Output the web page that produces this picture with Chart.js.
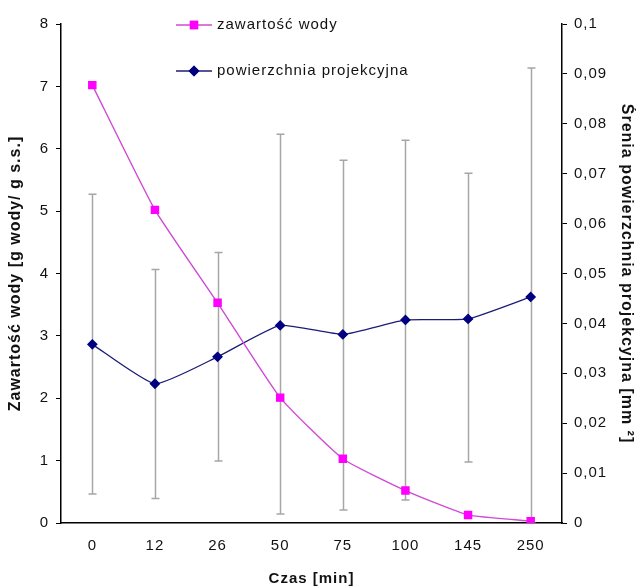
<!DOCTYPE html>
<html>
<head>
<meta charset="utf-8">
<style>
  html, body { margin: 0; padding: 0; background: #fff; }
  #wrap { width: 636px; height: 588px; position: relative; }
</style>
</head>
<body>
<div id="wrap">
  <canvas id="myChart"></canvas>
</div>

<script type="text/javascript" src="https://cdn.jsdelivr.net/npm/chart.js/dist/chart.umd.min.js"></script>

<script>
  // dane
  const czas = ['0', '12', '26', '50', '75', '100', '145', '250'];
  const zawartoscWody = [7.02, 5.02, 3.53, 2.01, 1.03, 0.52, 0.13, 0.03];
  const powierzchnia = [0.0358, 0.0279, 0.0333, 0.0396, 0.0378, 0.0407, 0.0409, 0.0453];
  const bladGorny = [0.0659, 0.0508, 0.0542, 0.0779, 0.0727, 0.0767, 0.0701, 0.0912];
  const bladDolny = [0.0058, 0.0049, 0.0124, 0.0018, 0.0026, 0.0046, 0.0122, 0];

  const FONT = "'Liberation Sans', Arial, sans-serif";

  // lekko rozstrzelony tekst jak w oryginale
  const spacing = {
    id: 'spacing',
    beforeDraw(chart) {
      chart.ctx.letterSpacing = '1px';
    }
  };

  // slupki bledow rysowane pod liniami
  const errorBars = {
    id: 'errorBars',
    beforeDatasetsDraw(chart) {
      const { ctx, chartArea } = chart;
      const x = chart.scales.x;
      const y1 = chart.scales.y1;
      ctx.save();
      ctx.beginPath();
      ctx.rect(chartArea.left, chartArea.top, chartArea.width, chartArea.height);
      ctx.clip();
      ctx.strokeStyle = '#a6a6a6';
      ctx.lineWidth = 1.5;
      for (let i = 0; i < czas.length; i++) {
        const px = Math.round(x.getPixelForValue(i)) + 0.5;
        const top = y1.getPixelForValue(bladGorny[i]);
        const bot = y1.getPixelForValue(bladDolny[i]);
        ctx.beginPath();
        ctx.moveTo(px, top);
        ctx.lineTo(px, bot);
        ctx.moveTo(px - 4, top);
        ctx.lineTo(px + 4, top);
        ctx.moveTo(px - 4, bot);
        ctx.lineTo(px + 4, bot);
        ctx.stroke();
      }
      ctx.restore();
    }
  };

  // legenda wewnatrz obszaru wykresu
  const innerLegend = {
    id: 'innerLegend',
    afterDraw(chart) {
      const { ctx, chartArea } = chart;
      const x0 = chartArea.left + 115;
      const rows = [chartArea.top + 1, chartArea.top + 47];
      ctx.save();
      chart.data.datasets.forEach((ds, i) => {
        const y = rows[i];
        ctx.strokeStyle = ds.borderColor;
        ctx.lineWidth = 1.3;
        ctx.beginPath();
        ctx.moveTo(x0, y);
        ctx.lineTo(x0 + 36, y);
        ctx.stroke();
        Chart.helpers.drawPoint(ctx, {
          pointStyle: ds.pointStyle,
          radius: ds.pointRadius,
          borderWidth: 1
        }, x0 + 18, y);
        ctx.fillStyle = ds.pointBackgroundColor;
        ctx.strokeStyle = ds.pointBorderColor;
        ctx.fill();
        ctx.stroke();
        ctx.fillStyle = '#111';
        ctx.font = '15px ' + FONT;
        ctx.textBaseline = 'middle';
        ctx.textAlign = 'left';
        ctx.fillText(ds.label, x0 + 41, y);
      });
      ctx.restore();
    }
  };

  const chartData = {
    labels: czas,
    datasets: [{
      label: 'zawartość wody',
      data: zawartoscWody,
      yAxisID: 'y',
      borderColor: '#d04ad6',
      backgroundColor: '#ff00ff',
      pointBackgroundColor: '#ff00ff',
      pointBorderColor: '#ff00ff',
      pointStyle: 'rect',
      pointRadius: 5,
      borderWidth: 1.4,
      tension: 0.15
    },
    {
      label: 'powierzchnia projekcyjna',
      data: powierzchnia,
      yAxisID: 'y1',
      borderColor: '#1c1c78',
      backgroundColor: '#000080',
      pointBackgroundColor: '#000080',
      pointBorderColor: '#000080',
      pointStyle: 'rectRot',
      pointRadius: 4.5,
      borderWidth: 1.3,
      tension: 0.15
    }]
  };

  const config = {
    type: 'line',
    data: chartData,
    options: {
      responsive: false,
      animation: false,
      layout: { padding: { top: 24, left: 0, right: 0, bottom: 0 } },
      plugins: {
        legend: { display: false },
        tooltip: { enabled: false }
      },
      scales: {
        x: {
          offset: true,
          grid: { display: true, drawOnChartArea: false, drawTicks: false },
          border: { color: '#000', width: 1.5 },
          ticks: { color: '#111', font: { family: FONT, size: 15 }, padding: 14 },
          title: {
            display: true,
            text: 'Czas [min]',
            color: '#111',
            font: { family: FONT, size: 15, weight: 'bold' },
            padding: { top: 0, bottom: 0 }
          },
          afterFit(scale) { scale.height = 65; }
        },
        y: {
          position: 'left',
          min: 0,
          max: 8,
          ticks: { stepSize: 1, color: '#111', font: { family: FONT, size: 15 }, padding: 7 },
          grid: { drawOnChartArea: false, tickLength: 5, color: '#000' },
          border: { color: '#000', width: 1.5 },
          title: {
            display: true,
            text: 'Zawartość wody [g wody/ g s.s.]',
            color: '#111',
            font: { family: FONT, size: 16, weight: 'bold' },
            padding: { top: 6, bottom: 0 }
          },
          afterFit(scale) { scale.width = 61; }
        },
        y1: {
          position: 'right',
          min: 0,
          max: 0.1,
          ticks: {
            stepSize: 0.01,
            color: '#111',
            font: { family: FONT, size: 15 },
            padding: 7,
            callback: v => String(Math.round(v * 100) / 100).replace('.', ',')
          },
          grid: { drawOnChartArea: false, tickLength: 5, color: '#000' },
          border: { color: '#000', width: 1.5 },
          title: {
            display: true,
            text: 'Śrenia powierzchnia projekcyjna [mm ²]',
            color: '#111',
            font: { family: FONT, size: 16, weight: 'bold' },
            padding: { top: 0, bottom: 1 }
          },
          afterFit(scale) { scale.width = 74; }
        }
      }
    },
    plugins: [spacing, errorBars, innerLegend]
  };

  const canvas = document.getElementById('myChart');
  canvas.width = 636;
  canvas.height = 588;
  const myChart = new Chart(canvas, config);
</script>
</body>
</html>
